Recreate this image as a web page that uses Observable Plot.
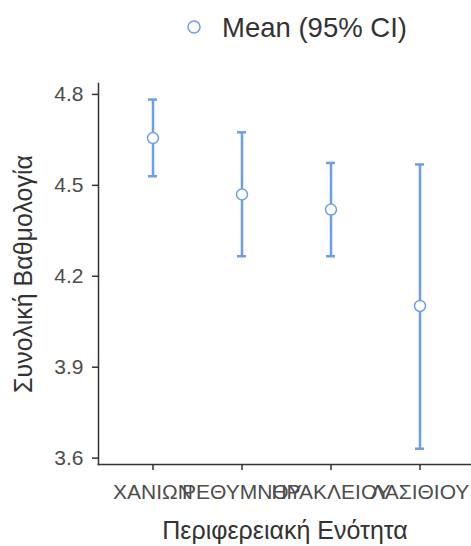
<!DOCTYPE html>
<html><head><meta charset="utf-8">
<script src="https://cdn.jsdelivr.net/npm/d3@7"></script>
<script src="https://cdn.jsdelivr.net/npm/@observablehq/plot@0.6"></script>
<style>
body{margin:0;background:#fff;font-family:"Liberation Sans",Arial,sans-serif}
#legend{height:56px;position:relative}
</style>
</head><body><div id="legend"></div><div id="chart"></div>
<script>
const regions = ["ΧΑΝΙΩΝ", "ΡΕΘΥΜΝΟΥ", "ΗΡΑΚΛΕΙΟΥ", "ΛΑΣΙΘΙΟΥ"];
const means = [4.656, 4.470, 4.420, 4.102];
const lower = [4.530, 4.266, 4.266, 3.631];
const upper = [4.783, 4.675, 4.574, 4.569];
const yTicks = [3.6, 3.9, 4.2, 4.5, 4.8];
const yDomain = [3.579, 4.836];
const xLabel = "Περιφερειακή Ενότητα";
const yLabel = "Συνολική Βαθμολογία";
const legendLabel = "Mean (95% CI)";

const data = regions.map((r, i) => ({region: r, mean: means[i], lo: lower[i], hi: upper[i]}));
const blue = "#6d9eeb";
const axisColor = "#333333";
const textColor = "#4d4d4d";

// Legend
const leg = d3.select("#legend").append("svg").attr("width", 471).attr("height", 56);
leg.append("circle").attr("cx", 194).attr("cy", 27).attr("r", 6)
  .attr("fill", "white").attr("stroke", blue).attr("stroke-width", 1.5);
leg.append("text").attr("x", 222).attr("y", 37).attr("font-size", 27.5)
  .attr("fill", axisColor).attr("font-family", "Liberation Sans, Arial, sans-serif").text(legendLabel);

const chart = Plot.plot({
  width: 471,
  height: 490,
  marginTop: 27,
  marginBottom: 82,
  marginLeft: 98,
  marginRight: 0,
  style: {fontFamily: "Liberation Sans, Arial, sans-serif", background: "white", overflow: "visible"},
  x: {type: "band", domain: regions, range: [98, 473], paddingInner: 0.9, paddingOuter: 0.55},
  y: {domain: yDomain},
  marks: [
    Plot.axisX({tickSize: 6, tickPadding: 14, fontSize: 21, color: textColor, stroke: axisColor, strokeWidth: 1.5, label: null, style: {letterSpacing: "0.7px"}}),
    Plot.axisY({ticks: yTicks, tickFormat: ".1f", tickSize: 6, tickPadding: 9, fontSize: 21, color: textColor, stroke: axisColor, strokeWidth: 1.5, label: null}),
    Plot.frame({anchor: "left", stroke: axisColor, strokeWidth: 1.5}),
    Plot.frame({anchor: "bottom", stroke: axisColor, strokeWidth: 1.5}),
    Plot.text([xLabel], {frameAnchor: "bottom", dy: 74, fontSize: 25, fill: axisColor, style: {letterSpacing: "1px"}}),
    Plot.text([yLabel], {frameAnchor: "left", textAnchor: "middle", rotate: -90, dx: -75, fontSize: 25, fill: axisColor, style: {letterSpacing: "0.8px"}}),
    Plot.ruleX(data, {x: "region", y1: "lo", y2: "hi", stroke: blue, strokeWidth: 2.5}),
    Plot.tickY(data, {x: "region", y: "lo", stroke: blue, strokeWidth: 2.5}),
    Plot.tickY(data, {x: "region", y: "hi", stroke: blue, strokeWidth: 2.5}),
    Plot.dot(data, {x: "region", y: "mean", r: 5.5, fill: "white", stroke: blue, strokeWidth: 1.5})
  ]
});
document.getElementById("chart").appendChild(chart);
</script>
</body></html>
